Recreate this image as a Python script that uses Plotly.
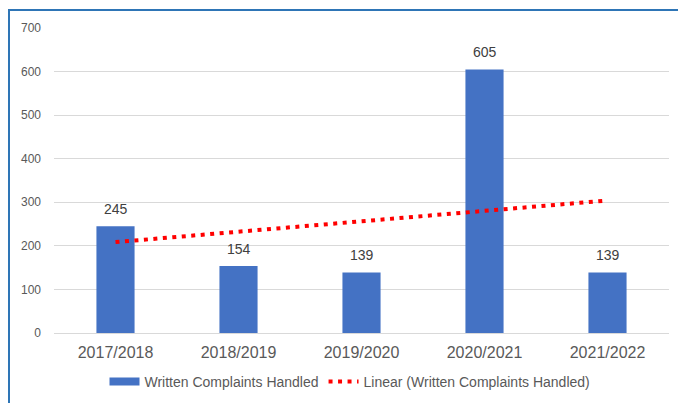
import numpy as np
import plotly.graph_objects as go

categories = ["2017/2018", "2018/2019", "2019/2020", "2020/2021", "2021/2022"]
complaints = [245, 154, 139, 605, 139]
y_ticks = [0, 100, 200, 300, 400, 500, 600, 700]

# Linear trendline (least squares fit of the series, as the original chart's trendline)
xi = np.arange(1, len(complaints) + 1)
slope, intercept = np.polyfit(xi, complaints, 1)
trend = list(slope * xi + intercept)

W, H = 678, 403
ml, mr, mt, mb = 54, 9, 28, 70
pw, ph = W - ml - mr, H - mt - mb
BLUE = "#4472C4"

fig = go.Figure()
fig.add_trace(go.Bar(
    x=categories, y=complaints, name="Written Complaints Handled",
    marker=dict(color=BLUE, line=dict(width=0)),
    showlegend=False,
))
# legend entry drawn as a wide bar swatch
fig.add_trace(go.Scatter(
    x=[None], y=[None], mode="lines", name="Written Complaints Handled",
    line=dict(color=BLUE, width=8),
))
fig.add_trace(go.Scatter(
    x=categories, y=trend, mode="lines", name="Linear (Written Complaints Handled)",
    line=dict(color="#FF0000", width=4, dash="4px,5.5px"),
))

for c, v in zip(categories, complaints):
    fig.add_annotation(x=c, y=v, text=str(v), showarrow=False, yanchor="bottom", yshift=7,
                       font=dict(size=14, color="#404040", family="Liberation Sans, Arial"))

def px_to_paper_x(px):
    return (px - ml) / pw

def px_to_paper_y(py):
    return (H - mb - py) / ph

fig.add_shape(type="rect", xref="paper", yref="paper",
              x0=px_to_paper_x(9), x1=px_to_paper_x(690),
              y0=px_to_paper_y(415), y1=px_to_paper_y(10),
              line=dict(color="#2E75B6", width=2), fillcolor="rgba(0,0,0,0)", layer="above")

fig.update_layout(
    width=W, height=H,
    margin=dict(l=ml, r=mr, t=mt, b=mb, autoexpand=False),
    paper_bgcolor="white", plot_bgcolor="white",
    font=dict(family="Liberation Sans, Arial", color="#595959"),
    bargap=0.69,
    showlegend=True,
    legend=dict(orientation="h", x=px_to_paper_x(350), xanchor="center", y=px_to_paper_y(382), yanchor="middle",
                font=dict(size=14, color="#595959"), tracegroupgap=0, traceorder="normal"),
    xaxis=dict(showgrid=False, showline=False, zeroline=False, ticks="", automargin=False,
               ticklabelstandoff=8, tickfont=dict(size=16, color="#595959")),
    yaxis=dict(range=[0, 700], tickvals=y_ticks, showgrid=True, gridcolor="#D9D9D9", gridwidth=1,
               zeroline=True, zerolinecolor="#D9D9D9", zerolinewidth=1, showline=False, ticks="",
               automargin=False, ticklabelstandoff=12, tickfont=dict(size=12, color="#595959")),
)

fig.write_html("out.html")
